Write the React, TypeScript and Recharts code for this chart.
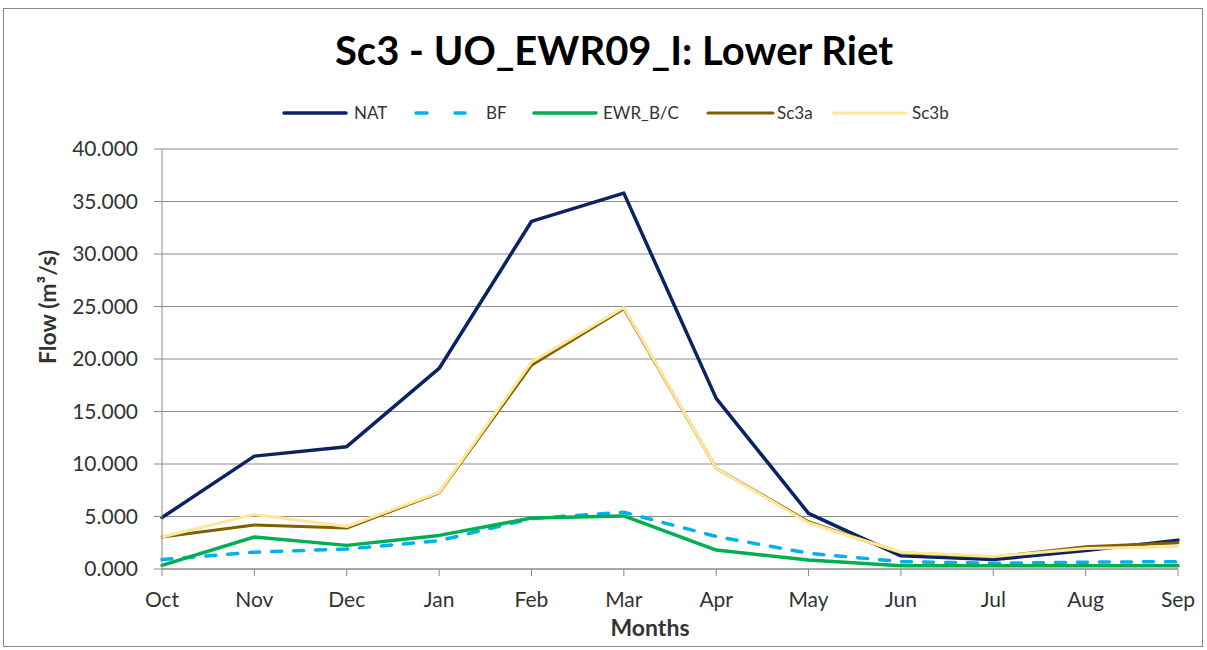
import React from "react";
import { LineChart, Line, XAxis, YAxis, CartesianGrid, Legend, Label } from "recharts";

const months = ["Oct", "Nov", "Dec", "Jan", "Feb", "Mar", "Apr", "May", "Jun", "Jul", "Aug", "Sep"];
const nat = [4.9, 10.75, 11.65, 19.1, 33.1, 35.8, 16.25, 5.3, 1.25, 0.9, 1.75, 2.75];
const bf = [0.9, 1.6, 1.9, 2.7, 4.8, 5.4, 3.1, 1.5, 0.7, 0.55, 0.65, 0.7];
const ewr = [0.35, 3.05, 2.25, 3.2, 4.85, 5.05, 1.8, 0.85, 0.3, 0.3, 0.3, 0.3];
const sc3a = [3.05, 4.2, 3.9, 7.25, 19.4, 24.8, 9.6, 4.5, 1.55, 1.15, 2.12, 2.5];
const sc3b = [3.05, 5.2, 4.05, 7.3, 19.7, 24.9, 9.6, 4.4, 1.6, 1.2, 1.95, 2.15];
const yTicks = [0, 5, 10, 15, 20, 25, 30, 35, 40];

const data = months.map((m, i) => ({
  month: m,
  NAT: nat[i],
  BF: bf[i],
  EWR: ewr[i],
  Sc3a: sc3a[i],
  Sc3b: sc3b[i],
}));

const series = [
  { key: "NAT", name: "NAT", color: "#0A2363", width: 3.5, dash: undefined as string | undefined },
  { key: "BF", name: "BF", color: "#00B0F0", width: 3.5, dash: "10 12" },
  { key: "EWR", name: "EWR_B/C", color: "#00B050", width: 3.5, dash: undefined },
  { key: "Sc3a", name: "Sc3a", color: "#7F6000", width: 3, dash: undefined },
  { key: "Sc3b", name: "Sc3b", color: "#FFE699", width: 3, dash: undefined },
];

// legend layout (style only)
const legendSwatchX = [284, 414, 534, 708, 834];
const legendSwatchW = [62, 51, 62, 65, 72];
const legendTextX = [354, 486, 603, 777, 912];

const FONT = "Lato, 'Open Sans', sans-serif";
const TEXT = "#333333";
const GRID = "#8a8a8a";

const renderLegend = () => (
  <svg width={1207} height={26} style={{ display: "block" }}>
    {series.map((s, i) => (
      <g key={s.key}>
        {s.dash ? (
          <line
            x1={legendSwatchX[i] + 2}
            x2={legendSwatchX[i] + legendSwatchW[i]}
            y1={13}
            y2={13}
            stroke={s.color}
            strokeWidth={s.width}
            strokeLinecap="round"
            strokeDasharray="11 28"
          />
        ) : (
          <line
            x1={legendSwatchX[i]}
            x2={legendSwatchX[i] + legendSwatchW[i]}
            y1={13}
            y2={13}
            stroke={s.color}
            strokeWidth={s.width}
            strokeLinecap="round"
          />
        )}
        <text x={legendTextX[i]} y={19} fontSize={17} fontFamily={FONT} fill={TEXT}>
          {s.name}
        </text>
      </g>
    ))}
  </svg>
);

export default function App() {
  return (
    <div style={{ position: "absolute", left: 0, top: 0, width: 1207, height: 650, background: "#fff" }}>
      <div
        style={{
          position: "absolute",
          left: 3,
          top: 8,
          width: 1200,
          height: 639,
          border: "1px solid #888",
          boxSizing: "border-box",
        }}
      />
      <svg width={1207} height={80} style={{ position: "absolute", left: 0, top: 0 }}>
        <text
          x={614}
          y={65}
          textAnchor="middle"
          fontSize={40}
          fontWeight={700}
          fontFamily={FONT}
          fill="#000"
        >
          Sc3 - UO_EWR09_I: Lower Riet
        </text>
      </svg>
      <div style={{ position: "absolute", left: 0, top: 0 }}>
        <LineChart
          width={1207}
          height={650}
          data={data}
          margin={{ top: 149, right: 29, left: 0, bottom: 41 }}
        >
          <CartesianGrid vertical={false} stroke={GRID} strokeWidth={1} />
          <XAxis
            dataKey="month"
            height={40}
            interval={0}
            tickSize={7}
            tickMargin={16}
            axisLine={{ stroke: GRID }}
            tickLine={{ stroke: GRID }}
            tick={{ fontSize: 21, fontFamily: FONT, fill: TEXT }}
          >
            <Label
              content={() => (
                <text x={650} y={636} textAnchor="middle" fontSize={23} fontWeight={700} fontFamily={FONT} fill={TEXT}>
                  Months
                </text>
              )}
            />
          </XAxis>
          <YAxis
            width={162}
            domain={[0, 40]}
            ticks={yTicks}
            interval={0}
            tickSize={8}
            tickMargin={16}
            axisLine={{ stroke: GRID }}
            tickLine={{ stroke: GRID }}
            tickFormatter={(v: number) => v.toFixed(3)}
            tick={{ fontSize: 21, fontFamily: FONT, fill: TEXT }}
          >
            <Label
              content={() => (
                <text
                  x={47}
                  y={307}
                  textAnchor="middle"
                  dominantBaseline="central"
                  transform="rotate(-90 47 307)"
                  fontSize={23}
                  fontWeight={700}
                  fontFamily={FONT}
                  fill={TEXT}
                >
                  Flow (m³/s)
                </text>
              )}
            />
          </YAxis>
          <Legend
            verticalAlign="middle"
            align="center"
            layout="horizontal"
            content={renderLegend}
            wrapperStyle={{ top: 100, left: 0, width: 1207, height: 26 }}
          />
          {series.map((s) => (
            <Line
              key={s.key}
              type="linear"
              dataKey={s.key}
              name={s.name}
              stroke={s.color}
              strokeWidth={s.width}
              strokeDasharray={s.dash}
              strokeLinecap="round"
              strokeLinejoin="round"
              dot={false}
              activeDot={false}
              isAnimationActive={false}
            />
          ))}
        </LineChart>
      </div>
    </div>
  );
}
